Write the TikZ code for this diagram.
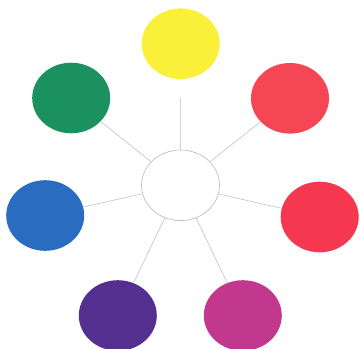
\documentclass[tikz,border=0pt]{standalone}
\usetikzlibrary{shapes.geometric}
\definecolor{cyellow}{RGB}{250,240,58}
\definecolor{cgreen}{RGB}{26,145,95}
\definecolor{credA}{RGB}{245,70,85}
\definecolor{credB}{RGB}{245,55,80}
\definecolor{cblue}{RGB}{42,108,192}
\definecolor{cpurple}{RGB}{83,48,143}
\definecolor{cmagenta}{RGB}{194,56,142}
\definecolor{cline}{RGB}{185,185,185}
\tikzset{
  blob/.style={ellipse, inner sep=0pt, minimum width=78pt, minimum height=70.6pt},
  hub/.style={blob, draw=cline, line width=0.6pt, fill=white},
  spoke/.style={draw=cline, line width=0.5pt}
}
\begin{document}
\begin{tikzpicture}[x=1pt,y=-1pt]
\useasboundingbox (0,0) rectangle (360,349);
\begin{scope}
\clip (0,0) rectangle (360,349);
\node[hub] (c) at (180.5,185.3) {};
\node[blob, fill=cyellow] (y) at (180.7,43.7) {};
\node[blob, fill=cgreen] (g) at (71.2,98) {};
\node[blob, fill=credA] (r1) at (290,98.3) {};
\node[blob, fill=cblue] (b) at (45.2,215.5) {};
\node[blob, fill=credB] (r2) at (319.7,217) {};
\node[blob, fill=cpurple] (p) at (117.8,315.5) {};
\node[blob, fill=cmagenta] (m) at (242.8,315.5) {};
\coordinate (yend) at (180.7,98);
\draw[spoke] (c) -- (yend);
\draw[spoke] (c) -- (g);
\draw[spoke] (c) -- (r1);
\draw[spoke] (c) -- (b);
\draw[spoke] (c) -- (r2);
\draw[spoke] (c) -- (p);
\draw[spoke] (c) -- (m);
\end{scope}
\end{tikzpicture}
\end{document}
